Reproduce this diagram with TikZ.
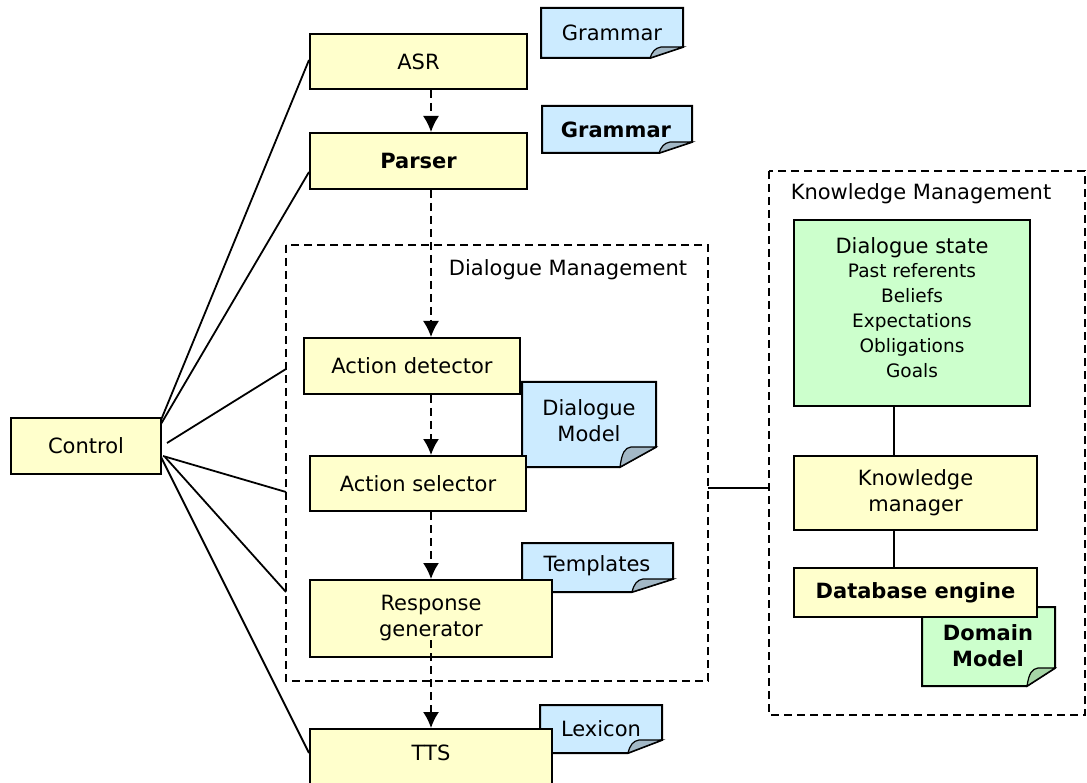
\documentclass[tikz,border=0pt]{standalone}
\usepackage{fontspec}
\setmainfont{DejaVu Sans}
\usetikzlibrary{arrows.meta}
\definecolor{boxyellow}{HTML}{FFFFCC}
\definecolor{noteblue}{HTML}{CCEBFF}
\definecolor{foldblue}{HTML}{A3B8C6}
\definecolor{boxgreen}{HTML}{CCFFCC}
\definecolor{foldgreen}{HTML}{A6D6A6}
% #1 x1, #2 y1, #3 x2, #4 y2, #5 fold x on bottom, #6 fold y on right, #7 fill, #8 fold fill
\newcommand\drawnote[8]{%
  \draw[notestyle, fill=#7] (#1,#2) -- (#3,#2) -- (#3,#6) -- (#5,#4) -- (#1,#4) -- cycle;
  \draw[foldstyle, fill=#8] (#5,#4) .. controls (#5+2,#6+5) and (#5+5,#6+1) .. (#5+11,#6) -- (#3,#6) -- cycle;
}
\tikzset{
  mainfont/.style={font=\fontsize{21}{26}\selectfont},
  box/.style={draw, line width=2pt, fill=boxyellow, inner sep=0pt, align=center, mainfont},
  gbox/.style={box, fill=boxgreen},
  notestyle/.style={line width=2pt, line join=miter},
  foldstyle/.style={line width=1.2pt},
  notetext/.style={inner sep=0pt, align=center, mainfont},
  link/.style={line width=1.8pt},
  flow/.style={line width=1.6pt, dash pattern=on 8pt off 5pt, -{Latex[length=16pt,width=16pt]}},
  group/.style={line width=1.6pt, dash pattern=on 8pt off 5pt},
  grouplabel/.style={inner sep=0pt, mainfont}
}
\begin{document}
\begin{tikzpicture}[x=1pt,y=-1pt]
\useasboundingbox (0,0) rectangle (1087,783);

% group boxes
\draw[group] (286,245) rectangle (708,681);
\node[grouplabel] (dmlabel) at (568,270) {Dialogue Management};
\draw[group] (769,171) rectangle (1085,715);
\node[grouplabel] (kmlabel) at (921,194) {Knowledge Management};

% notes (behind boxes)
\drawnote{541}{8}{683}{58}{650}{47}{noteblue}{foldblue}
\node[notetext] (gram1) at (612,33) {Grammar};
\drawnote{542}{106}{692}{153}{659}{142}{noteblue}{foldblue}
\node[notetext, font=\fontsize{21}{26}\selectfont\bfseries] (gram2) at (616,130) {Grammar};
\drawnote{522}{382}{656}{467}{620}{447}{noteblue}{foldblue}
\node[notetext] (dmodel) at (589,421) {Dialogue\\Model};
\drawnote{522}{543}{673}{592}{632}{579}{noteblue}{foldblue}
\node[notetext] (templ) at (597,566) {Templates};
\drawnote{540}{705}{662}{753}{628}{740}{noteblue}{foldblue}
\node[notetext] (lexicon) at (601,729) {Lexicon};
\drawnote{922}{607}{1055}{686}{1027}{668}{boxgreen}{foldgreen}
\node[notetext, font=\fontsize{21}{26}\selectfont\bfseries] (dommodel) at (988,646) {Domain\\Model};

% boxes
\node[box, minimum width=150pt, minimum height=56pt] (control) at (86,446) {Control};
\node[box, minimum width=217pt, minimum height=55pt] (asr) at (418.5,61.5) {ASR};
\node[box, minimum width=217pt, minimum height=56pt, font=\fontsize{21}{26}\selectfont\bfseries] (parser) at (418.5,161) {Parser};
\node[box, minimum width=216pt, minimum height=56pt] (adet) at (412,366) {Action detector};
\node[box, minimum width=216pt, minimum height=55pt] (asel) at (418,483.5) {Action selector};
\node[box, minimum width=242pt, minimum height=77pt] (rgen) at (431,618.5) {Response\\generator};
\node[box, minimum width=242pt, minimum height=62pt] (tts) at (431,760) {};
\node[notetext] (ttslabel) at (431,753) {TTS};

\node[gbox, minimum width=236pt, minimum height=186pt] (dstate) at (912,313) {};
\node[notetext, anchor=north] (dslabel) at (912,237) {Dialogue state\\[-2pt]
  {\fontsize{18.5}{23}\selectfont Past referents}\\[-1pt]
  {\fontsize{18.5}{23}\selectfont Beliefs}\\[-1pt]
  {\fontsize{18.5}{23}\selectfont Expectations}\\[-1pt]
  {\fontsize{18.5}{23}\selectfont Obligations}\\[-1pt]
  {\fontsize{18.5}{23}\selectfont Goals}};
\node[box, minimum width=243pt, minimum height=74pt] (kmgr) at (915.5,493) {Knowledge\\manager};
\node[box, minimum width=243pt, minimum height=49pt, font=\fontsize{21}{26}\selectfont\bfseries] (db) at (915.5,592.5) {Database engine};

% flow arrows
\coordinate (fx) at (431,0);
\draw[flow] (asr.south -| fx) -- (parser.north -| fx);
\draw[flow] (parser.south -| fx) -- (adet.north -| fx);
\draw[flow] (adet.south -| fx) -- (asel.north -| fx);
\draw[flow] (asel.south -| fx) -- (rgen.north -| fx);
\coordinate (rgstart) at (431,640);
\draw[flow] (rgstart) -- (tts.north -| fx);

% control links
\coordinate (c1) at (161,420);
\coordinate (c2) at (161,424);
\coordinate (c3) at (167,443);
\coordinate (c4) at (163,456);
\coordinate (c5) at (165,457);
\coordinate (c6) at (161,457);
\coordinate (dm1) at (286,369);
\coordinate (dm2) at (286,492);
\coordinate (dm3) at (286,592);
\draw[link] (c1) -- (asr.west |- 0,60);
\draw[link] (c2) -- (parser.west |- 0,172);
\draw[link] (c3) -- (dm1);
\draw[link] (c4) -- (dm2);
\draw[link] (c5) -- (dm3);
\draw[link] (c6) -- (tts.west |- 0,753);

% knowledge links
\coordinate (dmr) at (708,488);
\coordinate (kml) at (769,488);
\draw[link] (dmr) -- (kml);
\coordinate (kx) at (894,0);
\draw[link] (dstate.south -| kx) -- (kmgr.north -| kx);
\draw[link] (kmgr.south -| kx) -- (db.north -| kx);
\end{tikzpicture}
\end{document}
